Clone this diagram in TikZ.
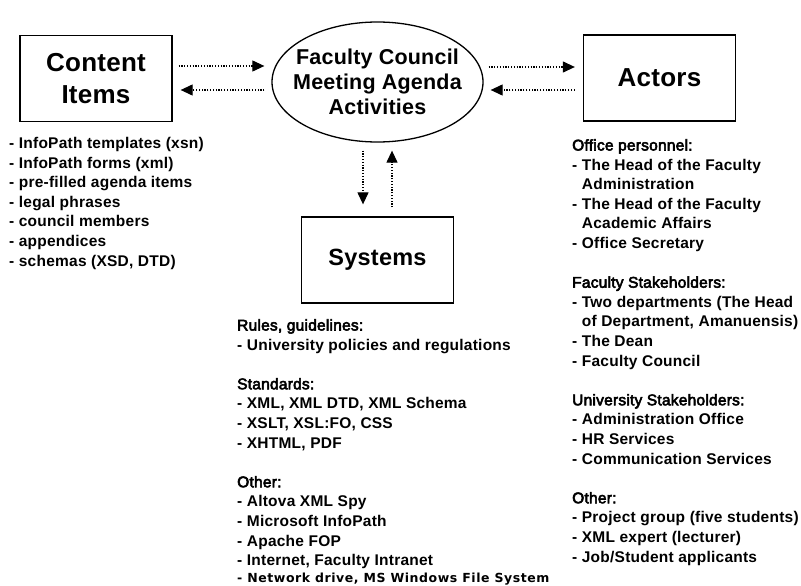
\documentclass[tikz,border=0pt]{standalone}
\usepackage{fontspec}
\setmainfont{Liberation Sans}
\newfontfamily\itemf[LetterSpace=1.5]{Liberation Sans}
\newfontfamily\boxf[LetterSpace=1]{Liberation Sans}
\newfontfamily\hdrf[LetterSpace=1.5,FakeBold=3.5]{Liberation Sans}
\newfontfamily\netf[LetterSpace=4.5]{DejaVu Sans}
\newcommand\hdrtext[1]{{\hdrf\mdseries #1}}
\newcommand\indtext{\phantom{- }}
\usetikzlibrary{shapes.geometric,arrows.meta}
\begin{document}
\begin{tikzpicture}[x=1pt,y=-1pt,
  box/.style={draw, line width=1.3pt, minimum width=152pt, minimum height=86pt,
    inner sep=0pt, align=center, font=\boxf\bfseries\fontsize{26}{32}\selectfont},
  oval/.style={draw, line width=1.3pt, ellipse, minimum width=211pt, minimum height=120pt,
    inner sep=0pt},
  ovaltext/.style={inner sep=0pt, align=center, font=\boxf\bfseries\fontsize{21.5}{25}\selectfont},
  listtext/.style={anchor=base west, inner sep=0pt, font=\itemf\bfseries\fontsize{15.5}{19.6}\selectfont},
  flow/.style={line width=1.2pt, dash pattern=on 1.2pt off 1.6pt,
    -{Triangle[length=12pt,width=11pt]}}
]
\useasboundingbox (0,0) rectangle (801,586);

\node[box] (C) at (96,78.5) {Content\\Items};
\node[oval] (E) at (377.5,82) {};
\node[ovaltext] (Et) at (E.center) {Faculty Council\\Meeting Agenda\\Activities};
\node[box] (A) at (659.5,78) {Actors};
\node[box, font=\boxf\bfseries\fontsize{23.5}{30}\selectfont] (S) at (377.5,260) {Systems};

% anchor points of the connectors
\coordinate (c1) at ([yshift=12.5pt]C.east);
\coordinate (c2) at ([yshift=-11.5pt]C.east);
\coordinate (a1) at ([yshift=11pt]A.west);
\coordinate (a2) at ([yshift=-12pt]A.west);
\coordinate (e1) at (E.west |- c1);
\coordinate (e2) at (E.west |- c2);
\coordinate (e3) at (E.east |- a1);
\coordinate (e4) at (E.east |- a2);
\coordinate (eb1) at ([xshift=-14.5pt]E.south);
\coordinate (eb2) at ([xshift=14.5pt]E.south);
\coordinate (s1) at ([xshift=-14.5pt]S.north);
\coordinate (s2) at ([xshift=14.5pt]S.north);

% horizontal connectors
\draw[flow, shorten <=6pt, shorten >=7pt] (c1) -- (e1);
\draw[flow, shorten <=7pt, shorten >=8pt] (e2) -- (c2);
\draw[flow, shorten <=5pt, shorten >=8pt] (e3) -- (a1);
\draw[flow, shorten <=8pt, shorten >=7pt] (a2) -- (e4);
% vertical connectors
\draw[flow, shorten <=8pt, shorten >=12pt] (eb1) -- (s1);
\draw[flow, shorten <=9pt, shorten >=8pt] (s2) -- (eb2);

% lists
\node[listtext] (CL) at (9,148.5) {\begin{tabular}[t]{@{}l@{}}
- InfoPath templates (xsn)\\
- InfoPath forms (xml)\\
- pre-filled agenda items\\
- legal phrases\\
- council members\\
- appendices\\
- schemas (XSD, DTD)
\end{tabular}};

\node[listtext] (SL) at (237,330.5) {\begin{tabular}[t]{@{}l@{}}
\hdrtext{Rules, guidelines:}\\
- University policies and regulations\\
\\
\hdrtext{Standards:}\\
- XML, XML DTD, XML Schema\\
- XSLT, XSL:FO, CSS\\
- XHTML, PDF\\
\\
\hdrtext{Other:}\\
- Altova XML Spy\\
- Microsoft InfoPath\\
- Apache FOP\\
- Internet, Faculty Intranet\\[-3pt]
{\netf\bfseries\fontsize{12.5}{19.6}\selectfont - Network drive, MS Windows File System}
\end{tabular}};

\node[listtext] (AL) at (572,150.5) {\begin{tabular}[t]{@{}l@{}}
\hdrtext{Office personnel:}\\
- The Head of the Faculty\\
\indtext Administration\\
- The Head of the Faculty\\
\indtext Academic Affairs\\
- Office Secretary\\
\\
\hdrtext{Faculty Stakeholders:}\\
- Two departments (The Head\\
\indtext of Department, Amanuensis)\\
- The Dean\\
- Faculty Council\\
\\
\hdrtext{University Stakeholders:}\\
- Administration Office\\
- HR Services\\
- Communication Services\\
\\
\hdrtext{Other:}\\
- Project group (five students)\\
- XML expert (lecturer)\\
- Job/Student applicants
\end{tabular}};
\end{tikzpicture}
\end{document}
